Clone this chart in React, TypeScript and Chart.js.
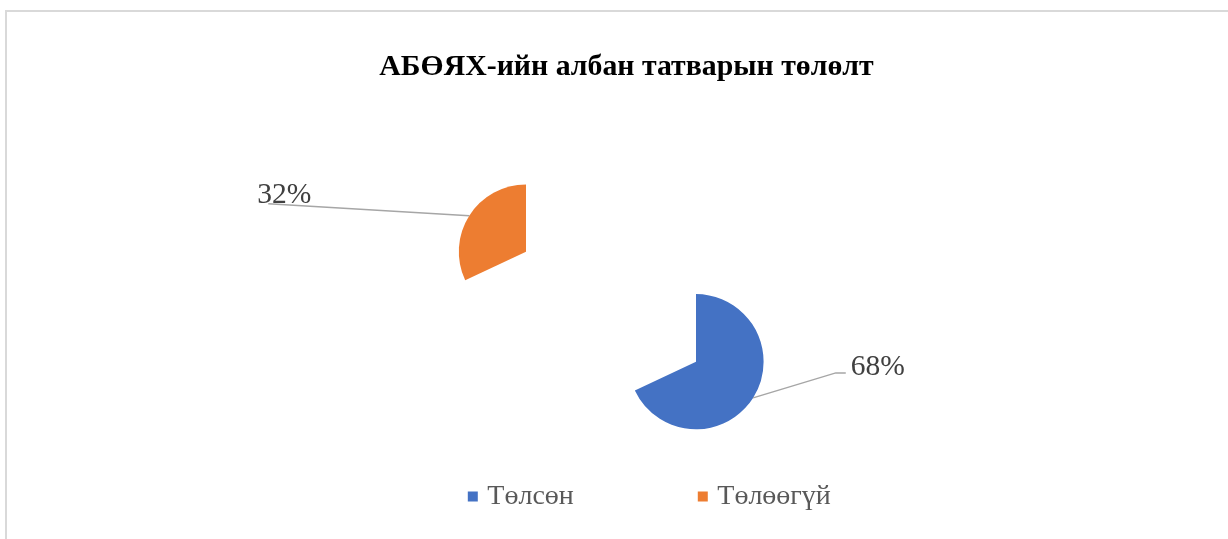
import React, { useEffect, useRef } from 'react';
import { Chart, registerables } from 'chart.js';

Chart.register(...registerables);

const chartTitle = 'АБӨЯХ-ийн албан татварын төлөлт';
const categories = ['Төлсөн', 'Төлөөгүй'];
const values = [68, 32];
const colors = ['#4472C4', '#ED7D31'];

const SERIF = "'Liberation Serif', 'Times New Roman', serif";
const W = 1239;
const H = 540;
const CLEAR = 'rgba(0,0,0,0)';

// leader line / label geometry per slice, relative to the slice's outer mid point
// [elbowDx, elbowDy, endDx, endDy, textDx, textBaselineDy]
const LABEL_GEO = [
  [82.7, -25, 92.7, -25, 97.7, -23.3],
  [-201, -12, -201, -12, -212, -13],
];

// each exploded slice is drawn by its own pie instance (other slice transparent)
const makeLeaderPlugin = (index: number) => ({
  id: 'leaders',
  afterDatasetsDraw(chart: any) {
    const ctx = chart.ctx;
    const arc: any = chart.getDatasetMeta(0).data[index];
    if (!arc) return;
    const total = values.reduce((a, b) => a + b, 0);
    const p = arc.getProps(['x', 'y', 'startAngle', 'endAngle', 'outerRadius'], true);
    const mid = (p.startAngle + p.endAngle) / 2;
    const px = p.x + p.outerRadius * Math.cos(mid);
    const py = p.y + p.outerRadius * Math.sin(mid);
    const g = LABEL_GEO[index];
    ctx.save();
    ctx.strokeStyle = '#a6a6a6';
    ctx.lineWidth = 1.5;
    ctx.beginPath();
    ctx.moveTo(px, py);
    ctx.lineTo(px + g[0], py + g[1]);
    ctx.lineTo(px + g[2], py + g[3]);
    ctx.stroke();
    ctx.fillStyle = '#404040';
    ctx.font = `29.5px ${SERIF}`;
    ctx.textAlign = 'left';
    ctx.textBaseline = 'alphabetic';
    ctx.fillText(Math.round((values[index] / total) * 100) + '%', px + g[4], py + g[5]);
    ctx.restore();
  },
});

const spacerScale = (position: string, width: number) => ({
  type: 'linear',
  position,
  display: true,
  grid: { display: false },
  ticks: { display: false },
  border: { display: false },
  title: { display: false },
  afterFit: (s: any) => {
    s.width = width;
  },
});

const sliceDataset = (visible: number, radius: number) => ({
  data: values,
  backgroundColor: colors.map((c, i) => (i === visible ? c : CLEAR)),
  borderWidth: 0,
  radius,
});

export default function App() {
  const refA = useRef<HTMLCanvasElement>(null);
  const refB = useRef<HTMLCanvasElement>(null);
  useEffect(() => {
    if (!refA.current || !refB.current) return;
    // Chart A: title + "Төлсөн" slice
    const chartA = new Chart(refA.current, {
      type: 'pie',
      data: { labels: categories, datasets: [sliceDataset(0, 67.6) as any] },
      options: {
        responsive: false,
        animation: false,
        events: [],
        layout: { padding: 0 },
        scales: { spaceL: spacerScale('left', 139) },
        plugins: {
          title: {
            display: true,
            text: chartTitle,
            color: '#000000',
            font: { family: SERIF, size: 29.8, weight: 'bold' },
            padding: { top: 37.6, bottom: 86 },
          },
          legend: { display: false },
          tooltip: { enabled: false },
        },
      } as any,
      plugins: [makeLeaderPlugin(0)],
    });
    // Chart B: legend + "Төлөөгүй" slice
    const baseLabels = (Chart as any).overrides.pie.plugins.legend.labels.generateLabels;
    const chartB = new Chart(refB.current, {
      type: 'pie',
      data: { labels: categories, datasets: [sliceDataset(1, 67.2) as any] },
      options: {
        responsive: false,
        animation: false,
        events: [],
        layout: { padding: { left: 336.8, right: 0, top: 137.4, bottom: 31.5 } },
        scales: { spaceR: spacerScale('right', 537.8) },
        plugins: {
          title: { display: false },
          legend: {
            position: 'bottom',
            align: 'start',
            labels: {
              usePointStyle: true,
              pointStyle: 'rect',
              boxWidth: 1,
              boxHeight: 10,
              padding: 128.5,
              color: '#595959',
              font: { family: SERIF, size: 28 },
              generateLabels: (chart: any) =>
                baseLabels(chart).map((item: any) => ({
                  ...item,
                  fillStyle: colors[item.index],
                  strokeStyle: colors[item.index],
                })),
            },
          },
          tooltip: { enabled: false },
        },
      } as any,
      plugins: [makeLeaderPlugin(1)],
    });
    return () => {
      chartA.destroy();
      chartB.destroy();
    };
  }, []);
  return (
    <div
      style={{
        position: 'fixed',
        left: 5,
        top: 10,
        width: W,
        height: H,
        border: '2px solid #d9d9d9',
        background: '#ffffff',
      }}
    >
      <canvas ref={refA} width={W} height={H} style={{ position: 'absolute', left: 0, top: 0, width: W, height: H }} />
      <canvas ref={refB} width={W} height={H} style={{ position: 'absolute', left: 0, top: 0, width: W, height: H }} />
    </div>
  );
}
